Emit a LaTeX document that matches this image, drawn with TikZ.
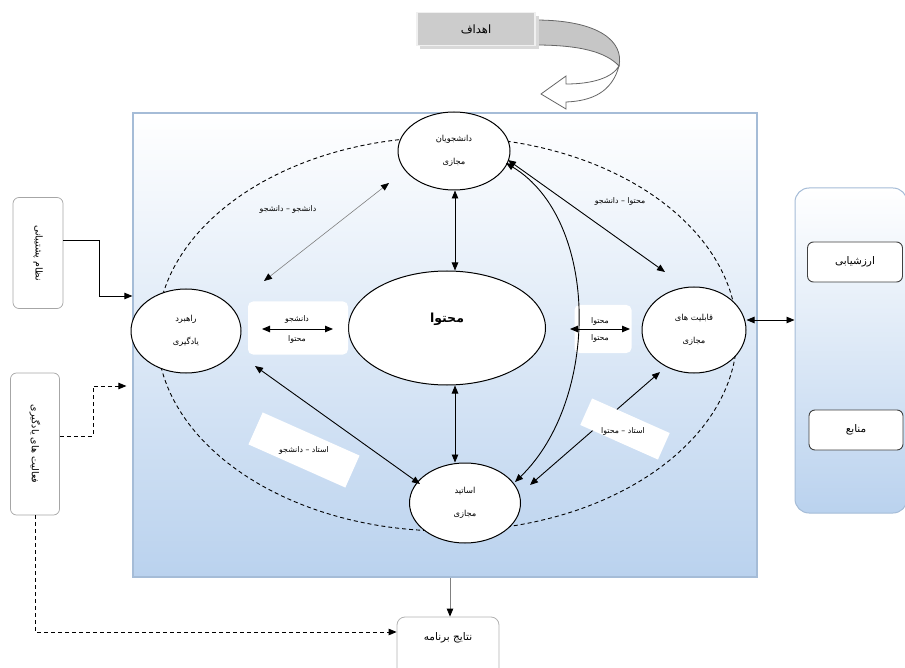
\documentclass[tikz,border=0pt]{standalone}
\usepackage{fontspec}
\newfontfamily\fa[Script=Arabic]{DejaVu Sans}
\TeXXeTstate=1
\usetikzlibrary{arrows.meta,shapes.geometric,calc}
\newcommand\rl[1]{\beginR #1\endR}
\definecolor{boxblue}{RGB}{186,210,238}
\definecolor{edgeblue}{RGB}{165,188,215}
\begin{document}
\begin{tikzpicture}[x=1pt,y=-1pt,
  ell/.style={ellipse, draw=black, line width=1pt, fill=white, inner sep=0pt, align=center,
    font=\fa\fontsize{8.3}{23}\selectfont},
  tip/.style={-{Triangle[length=8pt,width=6.5pt]}, line width=0.9pt},
  dbl/.style={{Triangle[length=8pt,width=6.5pt]}-{Triangle[length=8pt,width=6.5pt]}, line width=0.9pt},
  lab/.style={font=\fa\fontsize{7.8}{9}\selectfont, inner sep=1pt},
  wbox/.style={fill=white, draw=none, rounded corners=5pt, inner sep=0pt},
  sidebox/.style={draw=gray!70, rounded corners=6pt, fill=white, line width=0.7pt, inner sep=0pt},
  rotbox/.style={fill=white, draw=none, inner sep=0pt},
  boxtext/.style={font=\fa\fontsize{10.5}{12}\selectfont},
]
\useasboundingbox (0,0) rectangle (905,668);

% main panel
\node[draw=edgeblue, line width=1.2pt, top color=white, bottom color=boxblue,
  minimum width=624pt, minimum height=464pt, inner sep=0pt] (main) at (445,345) {};

% right panel
\node[draw=edgeblue, line width=1pt, top color=white, bottom color=boxblue, rounded corners=14pt,
  minimum width=112pt, minimum height=325pt, inner sep=0pt] (side) at (851,350.5) {};
\node[draw=black!75, line width=0.9pt, rounded corners=6pt, fill=white, minimum width=95pt,
  minimum height=40pt, boxtext] (eva) at (855,262) {\rl{ارزشیابی}};
\node[draw=black!75, line width=0.9pt, rounded corners=6pt, fill=white, minimum width=94pt,
  minimum height=40pt, boxtext] (src) at (856,430) {\rl{منابع}};

% dashed ring
\draw[line width=0.9pt, dash pattern=on 4pt off 3pt] (447,334) ellipse [x radius=290, y radius=197];

% goals box and curved block arrow
\fill[gray!45, draw=black!60, line width=0.8pt] (535,20) .. controls (600,20) and (624,42) .. (619,66)
  .. controls (606,52) and (580,45) .. (535,45) -- cycle;
\filldraw[fill=white, draw=black!60, line width=0.8pt] (619,66) .. controls (612,92) and (592,101) .. (566,102)
  -- (566,109) -- (541,94) -- (566,76) -- (566,84) .. controls (592,84) and (612,78) .. (619,66) -- cycle;
\fill[gray!30] (420,16) rectangle (539,49);
\node[draw=gray!12, line width=1.5pt, fill=gray!40, minimum width=118pt, minimum height=33pt,
  font=\fa\fontsize{11.5}{12}\selectfont] (goal) at (476,29) {\rl{اهداف}};

% ellipses
\node[ell, minimum width=112pt, minimum height=78pt] (stu) at (454,151) {\rl{دانشجویان}\\\rl{مجازی}};
\node[ell, minimum width=197pt, minimum height=114pt, font=\fa\bfseries\fontsize{12.5}{14}\selectfont] (cnt) at (447,328) {\rl{محتوا}\\[6pt]};
\node[ell, minimum width=110pt, minimum height=84pt] (str) at (186,331) {\rl{راهبرد}\\\rl{یادگیری}};
\node[ell, minimum width=104pt, minimum height=86pt] (cap) at (694,330) {\rl{قابلیت های}\\\rl{مجازی}};
\node[ell, minimum width=111pt, minimum height=80pt] (tea) at (465,503) {\rl{اساتید}\\\rl{مجازی}};

% small white boxes
\node[wbox, minimum width=100pt, minimum height=53pt] (lbx) at (298,328) {};
\node[lab] at (297,319) {\rl{دانشجو}};
\node[lab] at (297,339) {\rl{محتوا}};
\node[wbox, minimum width=57pt, minimum height=48pt] (rbx) at (603,329) {};
\node[lab] at (600,321) {\rl{محتوا}};
\node[lab] at (600,338) {\rl{محتوا}};
\coordinate (l1) at (262,329); \coordinate (l2) at (333,329);
\draw[dbl] (l1) -- (l2);
\coordinate (r1) at (570,329); \coordinate (r2) at (630,329);
\draw[dbl] (r1) -- (r2);

% connectors
\draw[dbl] (stu.south -| 455,0) -- (cnt.north -| 455,0);
\draw[dbl] (cnt.south -| 455,0) -- (tea.north -| 455,0);
\coordinate (g1) at (264,281); \coordinate (g2) at (389,183);
\draw[gray, line width=0.6pt, {Triangle[length=8pt,width=6.5pt,color=black]}-{Triangle[length=8pt,width=6.5pt,color=black]}] (g1) -- (g2);
\coordinate (s1) at (508,160); \coordinate (s2) at (665,272);
\draw[dbl] (s1) -- (s2);
\coordinate (c1) at (506,163); \coordinate (c2) at (515,482);
\draw[dbl] (c1) .. controls (600,220) and (600,400) .. (c2);
\coordinate (t1) at (660,372); \coordinate (t2) at (530,485);
\draw[dbl] (t1) -- (t2);
\coordinate (u1) at (255,366); \coordinate (u2) at (420,484);
\draw[dbl] (u1) -- (u2);
\draw[dbl] (cap.east |- 0,320) -- (side.west |- 0,320);

% rotated label boxes
\node[rotbox, rotate=-24, minimum width=106pt, minimum height=35pt] (rb1) at (304,450) {};
\node[lab] at (rb1) {\rl{استاد – دانشجو}};
\node[rotbox, rotate=-24, minimum width=85pt, minimum height=29pt] (rb2) at (625,429) {};
\node[lab] at (623,431) {\rl{استاد – محتوا}};
\node[lab] at (288,209) {\rl{دانشجو – دانشجو}};
\node[lab] at (620,201) {\rl{محتوا – دانشجو}};

% left boxes
\node[sidebox, minimum width=50pt, minimum height=111pt] (sup) at (38,253) {};
\node[rotate=-90, font=\fa\fontsize{9.5}{11}\selectfont] at (sup) {\rl{نظام پشتیبانی}};
\node[sidebox, minimum width=49pt, minimum height=142pt] (act) at (35,444) {};
\node[rotate=-90, font=\fa\fontsize{9.5}{11}\selectfont] at (act) {\rl{فعالیت های یادگیری}};
\draw[tip] ([yshift=13pt]sup.east) -| (99,296) -- (main.west |- 0,296);
\draw[tip, dash pattern=on 4pt off 3pt] ([yshift=8pt]act.east) -| (93,386) -- ([xshift=-6pt]main.west |- 0,386);

% result box
\node[draw=gray!60, line width=0.8pt, rounded corners=8pt, fill=white, minimum width=102pt,
  minimum height=60pt, inner sep=0pt] (res) at (448,647) {};
\node[boxtext] at (448,638) {\rl{نتایج برنامه}};
\draw[tip, dash pattern=on 4pt off 3pt] (act.south) |- ([yshift=15pt]res.west);
\draw[gray, line width=0.8pt, -{Triangle[length=8pt,width=6.5pt,color=black]}] (main.south -| 450,0) -- (res.north -| 450,0);
\end{tikzpicture}
\end{document}
